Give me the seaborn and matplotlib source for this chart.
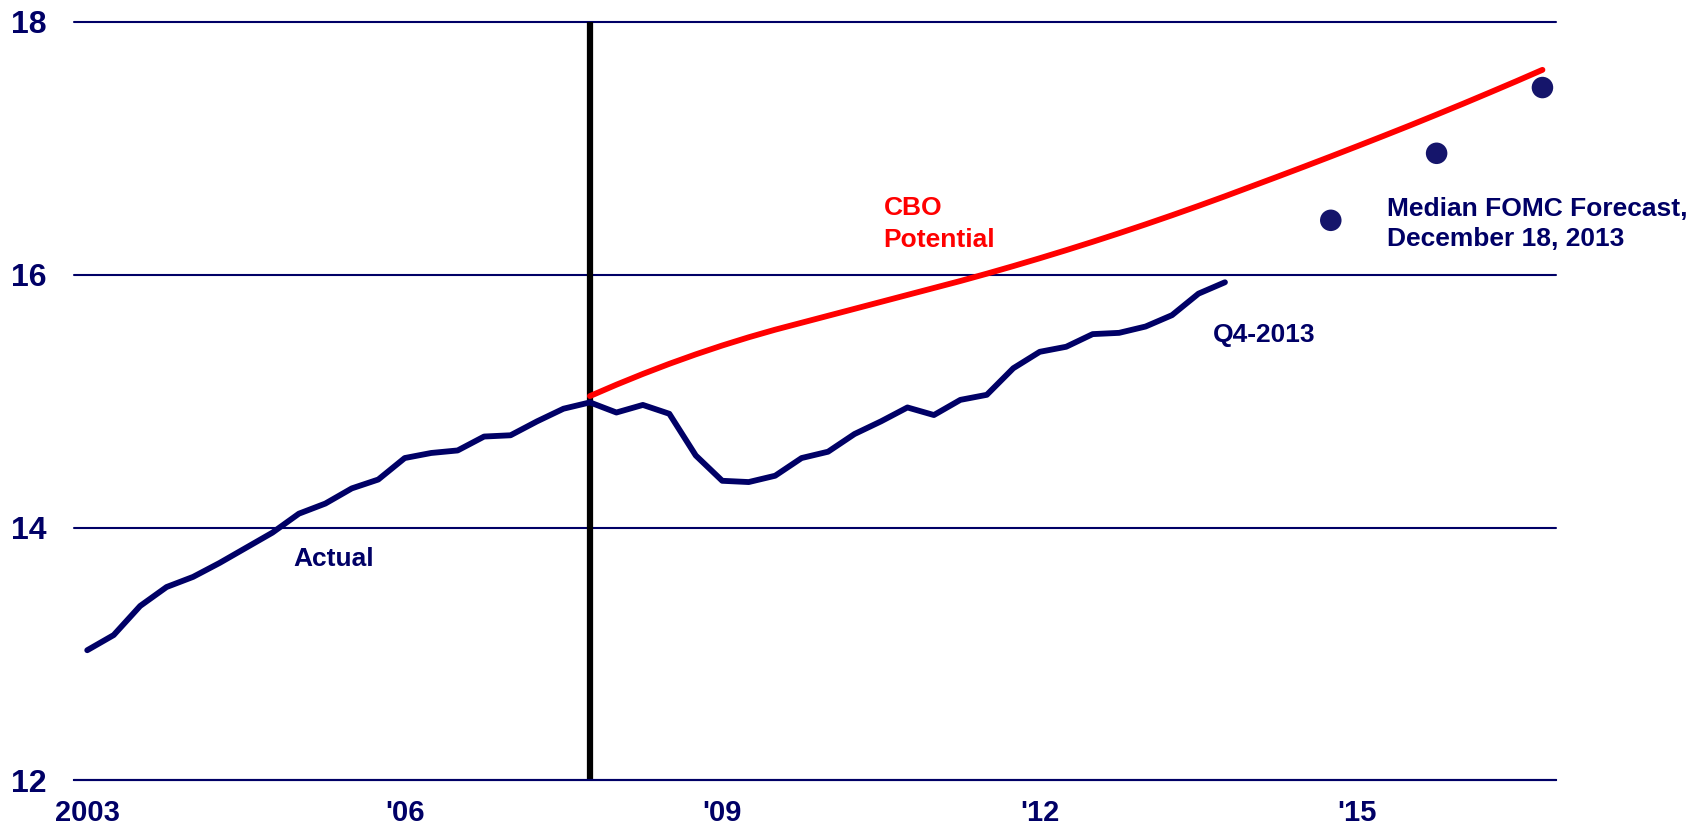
import numpy as np
import pandas as pd
import matplotlib
matplotlib.use("Agg")
import matplotlib.pyplot as plt
import matplotlib.transforms as mtransforms
import seaborn as sns

# Real GDP, trillions, quarterly 2003Q1 - 2013Q4
actual_start, actual_end = "2003Q1", "2013Q4"
actual_gdp = [13.03, 13.15, 13.38, 13.53,
              13.61, 13.72, 13.84, 13.96,
              14.11, 14.19, 14.31, 14.38,
              14.55, 14.59, 14.61, 14.72,
              14.73, 14.84, 14.94, 14.99,
              14.91, 14.97, 14.90, 14.57,
              14.37, 14.36, 14.41, 14.55,
              14.60, 14.74, 14.84, 14.95,
              14.89, 15.01, 15.05, 15.26,
              15.39, 15.43, 15.53, 15.54,
              15.59, 15.68, 15.85, 15.94]

# CBO potential GDP, quarterly 2007Q4 - 2016Q4
potential_start, potential_end = "2007Q4", "2016Q4"
potential_gdp = [15.04,
                 15.13, 15.215, 15.295, 15.37,
                 15.44, 15.505, 15.565, 15.62,
                 15.675, 15.73, 15.785, 15.84,
                 15.895, 15.95, 16.008, 16.068,
                 16.13, 16.194, 16.26, 16.328,
                 16.398, 16.47, 16.544, 16.62,
                 16.698, 16.776, 16.855, 16.935,
                 17.016, 17.098, 17.181, 17.266,
                 17.352, 17.44, 17.529, 17.62]

# Median FOMC projections (Q4 levels)
fomc_quarters = ["2014Q4", "2015Q4", "2016Q4"]
fomc_gdp = [16.43, 16.96, 17.48]

peak_quarter = "2007Q4"

tick_years = [2003, 2006, 2009, 2012, 2015]
tick_labels = ["2003", "'06", "'09", "'12", "'15"]
y_ticks = [12, 14, 16, 18]


def to_year(periods):
    # mid-quarter position in decimal years
    p = pd.PeriodIndex(periods, freq="Q")
    return p.year + (p.quarter - 1) / 4 + 0.125


df_actual = pd.DataFrame({
    "date": to_year(pd.period_range(actual_start, actual_end, freq="Q")),
    "gdp": actual_gdp})
df_pot = pd.DataFrame({
    "date": to_year(pd.period_range(potential_start, potential_end, freq="Q")),
    "gdp": potential_gdp})
df_fomc = pd.DataFrame({"date": to_year(fomc_quarters), "gdp": fomc_gdp})

navy = "#000066"
dot_color = "#15156b"
red = "#ff0000"

sns.set_style("white")
plt.rcParams["font.family"] = ["Liberation Sans", "DejaVu Sans"]
plt.rcParams["font.weight"] = "bold"

fig = plt.figure(figsize=(17.07, 8.35), dpi=100)
ax = fig.add_axes([0.04335, 0.0653, 0.868, 0.9086])

for y in y_ticks:
    ax.axhline(y, color=navy, lw=1.5, zorder=1)

ax.vlines(to_year([peak_quarter])[0], 12, 18, color="black", lw=4.5, zorder=2)

sns.lineplot(data=df_actual, x="date", y="gdp", ax=ax, color=navy, lw=4.2,
             solid_capstyle="round", zorder=3)
sns.lineplot(data=df_pot, x="date", y="gdp", ax=ax, color=red, lw=4.2,
             solid_capstyle="round", zorder=4)
sns.scatterplot(data=df_fomc, x="date", y="gdp", ax=ax, color=dot_color,
                s=240, edgecolor="none", zorder=5)

ax.set_xlim(2003, 2017)
ax.set_ylim(12, 18)
ax.set_xticks(tick_years)
ax.set_xticklabels(tick_labels)
ax.set_yticks(y_ticks)
ax.set_xlabel("")
ax.set_ylabel("")

for side in ["top", "right", "left"]:
    ax.spines[side].set_visible(False)
ax.spines["bottom"].set_color(navy)
ax.spines["bottom"].set_linewidth(1.5)

ax.tick_params(axis="x", length=7.2, width=1.5, color=navy, direction="out",
               labelsize=21, labelcolor=navy, pad=6)
ax.tick_params(axis="y", length=0, labelsize=23, labelcolor=navy, pad=20)
for lab in ax.get_xticklabels() + ax.get_yticklabels():
    lab.set_fontweight("bold")
offset = mtransforms.ScaledTranslation(13 / 100, 0, fig.dpi_scale_trans)
for lab in ax.get_xticklabels():
    lab.set_transform(lab.get_transform() + offset)

ax.text(2010.65, 16.40, "CBO\nPotential", color=red, fontsize=19,
        fontweight="bold", ha="left", va="center", linespacing=1.45)
ax.text(2005.07, 13.75, "Actual", color=navy, fontsize=19,
        fontweight="bold", ha="left", va="center")
ax.text(2013.76, 15.52, "Q4-2013", color=navy, fontsize=19,
        fontweight="bold", ha="left", va="center")
ax.text(2015.41, 16.40, "Median FOMC Forecast,\nDecember 18, 2013", color=navy,
        fontsize=19, fontweight="bold", ha="left", va="center", linespacing=1.35)

for line in ax.lines:
    line.set_clip_on(False)

fig.savefig("out.png", dpi=100)
